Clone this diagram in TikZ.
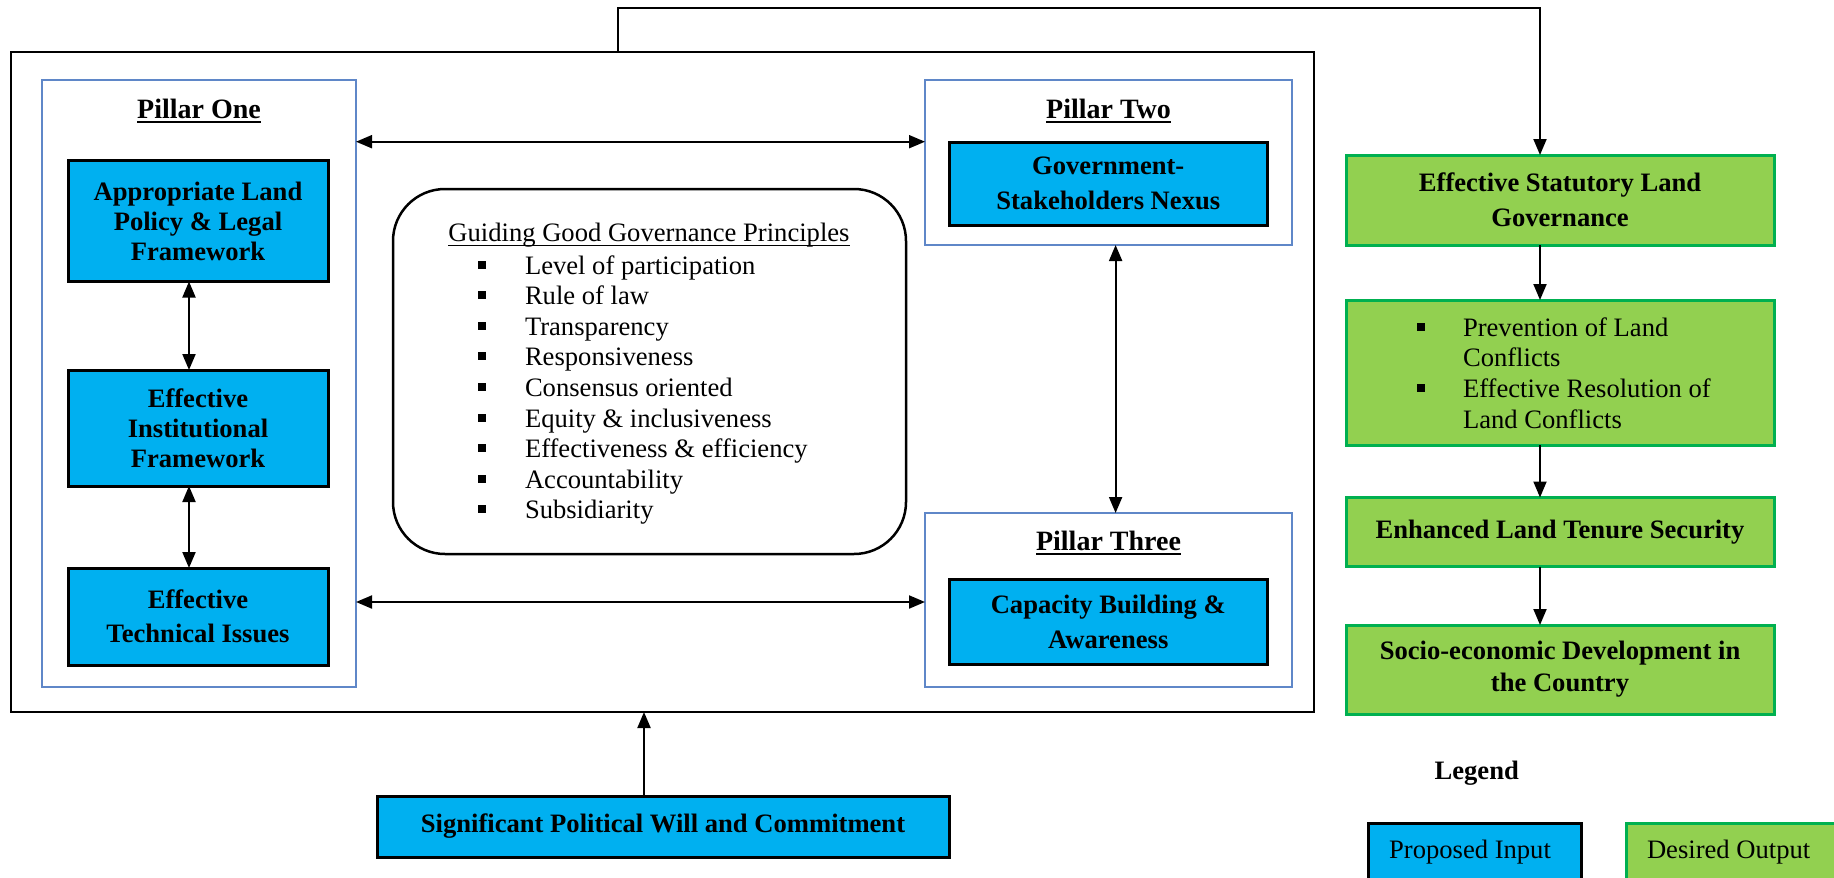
\documentclass[tikz,border=0pt]{standalone}
\usepackage{fontspec}
\setmainfont{Liberation Serif}
\usetikzlibrary{arrows.meta}
\definecolor{inblue}{HTML}{00B0F0}
\definecolor{outgreen}{HTML}{92D050}
\definecolor{outborder}{HTML}{00B050}
\definecolor{pillarblue}{RGB}{95,135,200}
\newcommand\ulthick[1]{\setbox0\hbox{#1}\rlap{\rule[-5pt]{\wd0}{2.2pt}}\box0}
\newcommand\ulthin[1]{\setbox0\hbox{#1}\rlap{\rule[-4.5pt]{\wd0}{1.1pt}}\box0}
\newcommand\sqbullet{\rule[5.5pt]{7.5pt}{8pt}}
\newcommand\itm[1]{\makebox[47pt][l]{\sqbullet}#1}
\newcommand\itmg[1]{\makebox[46pt][l]{\sqbullet}#1}
\begin{document}
\begin{tikzpicture}[x=1pt,y=-1pt,
  every node/.style={inner sep=0pt, outer sep=0pt},
  inbox/.style={draw=black, line width=3pt, fill=inblue, align=center,
    font=\fontsize{26.6}{#1}\selectfont\bfseries},
  inbox/.default=30,
  outbox/.style={draw=outborder, line width=3pt, fill=outgreen, align=center,
    minimum width=428, font=\fontsize{26.6}{#1}\selectfont\bfseries},
  outbox/.default=35,
  pillar/.style={draw=pillarblue, line width=2.5pt},
  ptitle/.style={anchor=base, font=\fontsize{28}{32}\selectfont\bfseries},
  plain/.style={font=\fontsize{26.6}{30}\selectfont},
  tip/.style={Triangle[length=16pt,width=13pt]},
  conn/.style={line width=2pt, -{Triangle[length=16pt,width=13pt]}},
  dbl/.style={line width=2pt, {Triangle[length=16pt,width=13pt]}-{Triangle[length=16pt,width=13pt]}}
]
\useasboundingbox (0,0) rectangle (1834,878);
\clip (0,0) rectangle (1834,878);

% outer framework box
\node[draw=black, line width=2.7pt, minimum width=1303, minimum height=660] (outer) at (662.5,382) {};

% Pillar One
\node[pillar, minimum width=314, minimum height=607] (p1) at (199,383.5) {};
\node[ptitle] (p1t) at (199,118) {\ulthick{Pillar One}};
\node[inbox, minimum width=260, minimum height=121] (a) at (198,221) {Appropriate Land\\Policy \& Legal\\Framework};
\node[inbox, minimum width=260, minimum height=116] (b) at (198,428) {Effective\\Institutional\\Framework};
\node[inbox=34, minimum width=260, minimum height=97] (c) at (198,616.5) {Effective\\Technical Issues};

% Guiding principles
\node[draw=black, line width=2.5pt, rounded corners=52pt, minimum width=513, minimum height=365] (gg) at (649.5,371.5) {};
\node[plain, anchor=base] (ggt) at (649,241.7) {\ulthin{Guiding Good Governance Principles}};
\node[anchor=west, align=left, font=\fontsize{26.6}{30.6}\selectfont] (ggl) at (478,390) {%
\itm{Level of participation}\\
\itm{Rule of law}\\
\itm{Transparency}\\
\itm{Responsiveness}\\
\itm{Consensus oriented}\\
\itm{Equity \& inclusiveness}\\
\itm{Effectiveness \& efficiency}\\
\itm{Accountability}\\
\itm{Subsidiarity}};

% Pillar Two
\node[pillar, minimum width=367, minimum height=165] (p2) at (1108.5,162.5) {};
\node[ptitle] (p2t) at (1108.5,118) {\ulthick{Pillar Two}};
\node[inbox=35, minimum width=318.5, minimum height=83] (gov) at (1108.25,183.5) {Government-\\Stakeholders Nexus};

% Pillar Three
\node[pillar, minimum width=367, minimum height=174] (p3) at (1108.5,600) {};
\node[ptitle] (p3t) at (1108.5,550) {\ulthick{Pillar Three}};
\node[inbox=35, minimum width=318.5, minimum height=85] (cap) at (1108.25,621.5) {Capacity Building \&\\Awareness};

% Political will
\node[inbox, minimum width=572, minimum height=61] (sig) at (663,826.5) {Significant Political Will and Commitment};

% Outputs
\node[outbox, minimum height=90] (g1) at (1560,200) {Effective Statutory Land\\Governance};
\node[outbox, minimum height=145] (g2) at (1560,372.5) {};
\node[anchor=west, align=left, font=\fontsize{26.6}{30.7}\selectfont] (g2l) at (1417,373) {%
\itmg{Prevention of Land}\\
\hspace*{46pt}Conflicts\\
\itmg{Effective Resolution of}\\
\hspace*{46pt}Land Conflicts};
\node[outbox, minimum height=69] (g3) at (1560,532) {Enhanced Land Tenure Security};
\node[outbox=32, minimum height=89] (g4) at (1560,669.5) {Socio-economic Development in\\the Country};

% Legend
\node[anchor=base, font=\fontsize{26.6}{30}\selectfont\bfseries] (leg) at (1476.7,779) {Legend};
\node[draw=black, line width=3pt, fill=inblue, anchor=north, minimum width=213, inner ysep=17pt, text depth=12pt, plain] (pin) at (1474.5,823) {Proposed Input\hspace*{9pt}};
\node[draw=outborder, line width=3pt, fill=outgreen, anchor=north west, inner xsep=0pt, inner ysep=17pt, text depth=12pt, plain] (dout) at (1626,823) {\hspace*{21pt}Desired Output\hspace*{80pt}};

% connectors
\coordinate (tl) at (618,8);
\coordinate (tr) at (1540,8);
\coordinate (r1) at (0,141.7);
\coordinate (r2) at (0,602);
\coordinate (v1) at (189,0);
\coordinate (v2) at (1115.6,0);
\coordinate (v3) at (644,0);

\draw[conn] (outer.north -| tl) -- (tl) -- (tr) -- (g1.north -| tr);
\draw[dbl] (p1.east |- r1) -- (p2.west |- r1);
\draw[dbl] (p1.east |- r2) -- (p3.west |- r2);
\draw[dbl] (a.south -| v1) -- (b.north -| v1);
\draw[dbl] (b.south -| v1) -- (c.north -| v1);
\draw[dbl] (p2.south -| v2) -- (p3.north -| v2);
\draw[conn] (sig.north -| v3) -- (outer.south -| v3);
\draw[conn] (g1.south -| tr) -- (g2.north -| tr);
\draw[conn] (g2.south -| tr) -- (g3.north -| tr);
\draw[conn] (g3.south -| tr) -- (g4.north -| tr);
\end{tikzpicture}
\end{document}
